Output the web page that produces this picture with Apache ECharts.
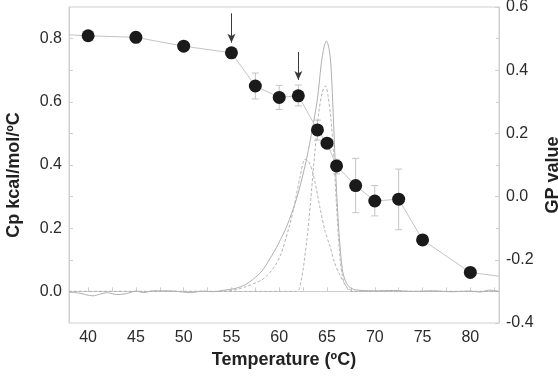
<!DOCTYPE html>
<html>
<head>
<meta charset="utf-8">
<script src="https://cdn.jsdelivr.net/npm/echarts@6/dist/echarts.min.js"></script>
<style>
  html, body { margin: 0; padding: 0; background: #fff; }
  #chart { width: 558px; height: 379px; }
</style>
</head>
<body>
<div id="chart"></div>
<script>
// GP values (right axis)
var gpTemp = [40, 45, 50, 55, 57.5, 60, 62, 64, 65, 66, 68, 70, 72.5, 75, 80];
var gpValue = [0.509, 0.504, 0.476, 0.455, 0.350, 0.314, 0.319, 0.211, 0.169, 0.097, 0.035, -0.014, -0.008, -0.137, -0.240];
// the connecting line runs on to both frame edges
var gpLineStart = [38, 0.512];
var gpLineEnd = [83, -0.252];

// error bars on GP
var errTemp = [57.5, 60, 62, 64, 66, 68, 70, 72.5];
var errLow = [0.309, 0.276, 0.287, 0.179, 0.072, -0.051, -0.061, -0.105];
var errHigh = [0.391, 0.352, 0.353, 0.242, 0.118, 0.121, 0.035, 0.087];

// arrows (temperature, from GP, to GP)
var arrowTemp = [55, 62];
var arrowFrom = [0.580, 0.458];
var arrowTo = [0.487, 0.369];

// DSC trace, Cp (left axis)
var cpTemp = [38, 39, 40.5, 41.3, 42, 43, 44, 45.1, 45.8, 46.8, 48, 49, 50.7, 52, 53, 54.5, 55.5, 56.5, 57.3, 58.2, 59, 59.9, 60.8, 61.8, 62.7, 63.4, 64.0, 64.4, 64.7, 64.95, 65.2, 65.4, 65.6, 65.8, 66.0, 66.2, 66.4, 66.6, 66.9, 67.3, 68, 70, 72, 74, 76, 78, 80, 81, 82, 83];
var cpValue = [-0.003, -0.005, -0.014, -0.008, -0.004, -0.010, -0.007, 0.001, -0.004, 0.002, 0.002, 0.001, -0.004, 0.001, -0.001, 0.005, 0.010, 0.022, 0.039, 0.065, 0.102, 0.150, 0.207, 0.292, 0.397, 0.502, 0.610, 0.720, 0.775, 0.792, 0.770, 0.720, 0.600, 0.450, 0.320, 0.210, 0.130, 0.070, 0.035, 0.015, 0.005, 0.002, 0.003, 0.000, 0.002, -0.001, 0.001, -0.002, 0.004, 0.000];

// narrow deconvolved peak
var peakATemp = [38, 61.8, 62.3, 62.9, 63.3, 63.6, 64.1, 64.5, 64.85, 65.1, 65.4, 65.7, 66.0, 66.3, 66.6, 67.0, 67.5, 83];
var peakAValue = [0, 0, 0.035, 0.165, 0.290, 0.397, 0.555, 0.630, 0.650, 0.620, 0.550, 0.430, 0.270, 0.130, 0.050, 0.015, 0, 0];

// broad deconvolved peak
var peakBTemp = [38, 53, 55, 56.5, 58.3, 59.3, 60.1, 61, 61.5, 62.2, 62.7, 63.1, 63.6, 64.3, 64.8, 65.3, 65.8, 66.3, 67.1, 68, 83];
var peakBValue = [0, 0, 0.003, 0.015, 0.039, 0.070, 0.112, 0.200, 0.260, 0.365, 0.418, 0.410, 0.365, 0.260, 0.190, 0.144, 0.090, 0.055, 0.013, 0, 0];

// tick labels
var xLabels = [40, 45, 50, 55, 60, 65, 70, 75, 80];
var xTicks = [40, 42.5, 45, 47.5, 50, 52.5, 55, 57.5, 60, 62.5, 65, 67.5, 70, 72.5, 75, 77.5, 80, 82.5];
var cpLabels = [0, 0.2, 0.4, 0.6, 0.8];
var cpTicks = [0, 0.1, 0.2, 0.3, 0.4, 0.5, 0.6, 0.7, 0.8];

function zip(a, b) {
  return a.map(function (v, i) { return [v, b[i]]; });
}

var axisGrey = '#cfcfcf';
var textCol = '#2b2b2b';
var font = 'Liberation Sans, Arial, sans-serif';

var chart = echarts.init(document.getElementById('chart'));

var option = {
  animation: false,
  backgroundColor: '#fff',
  textStyle: { fontFamily: font },
  grid: {
    left: 69, right: 59, top: 7, bottom: 56,
    outerBoundsMode: 'none', containLabel: false,
    show: true, borderColor: axisGrey, borderWidth: 1
  },
  xAxis: {
    type: 'value', min: 38, max: 83,
    name: 'Temperature (ºC)', nameLocation: 'middle', nameGap: 23,
    nameTextStyle: { fontSize: 18, fontWeight: 'bold', color: '#222', fontFamily: font },
    axisLine: { lineStyle: { color: axisGrey } },
    axisTick: { inside: true, length: 4, lineStyle: { color: axisGrey }, customValues: xTicks },
    axisLabel: { fontSize: 16, color: textCol, margin: 7, customValues: xLabels },
    splitLine: { show: false }
  },
  yAxis: [
    {
      type: 'value', min: -0.1, max: 0.9, position: 'left',
      name: 'Cp kcal/mol/ºC', nameLocation: 'middle', nameGap: 46,
      nameTextStyle: { fontSize: 18, fontWeight: 'bold', color: '#222', fontFamily: font, padding: [0, 20, 0, 0] },
      axisLine: { show: true, lineStyle: { color: axisGrey } },
      axisTick: { show: true, inside: true, length: 4, lineStyle: { color: axisGrey }, customValues: cpTicks },
      axisLabel: { fontSize: 16, color: textCol, margin: 7, customValues: cpLabels,
        formatter: function (v) { return v.toFixed(1); } },
      splitLine: { show: false }
    },
    {
      type: 'value', min: -0.4, max: 0.6, interval: 0.2, position: 'right',
      name: 'GP value', nameLocation: 'middle', nameGap: 41, nameRotate: 90,
      nameTextStyle: { fontSize: 18, fontWeight: 'bold', color: '#222', fontFamily: font, padding: [0, 20, 0, 0] },
      axisLine: { show: true, lineStyle: { color: axisGrey } },
      axisTick: { show: true, inside: true, length: 4, lineStyle: { color: axisGrey } },
      minorTick: { show: true, splitNumber: 2, length: 3, lineStyle: { color: axisGrey } },
      axisLabel: { fontSize: 16, color: textCol, margin: 7,
        formatter: function (v) { return v.toFixed(1); } },
      splitLine: { show: false }
    }
  ],
  series: [
    {
      name: 'broad', type: 'line', yAxisIndex: 0, symbol: 'none', smooth: 0.3,
      data: zip(peakBTemp, peakBValue),
      lineStyle: { color: '#b5b5b5', width: 1, type: [3, 2] }
    },
    {
      name: 'narrow', type: 'line', yAxisIndex: 0, symbol: 'none', smooth: 0.3,
      data: zip(peakATemp, peakAValue),
      lineStyle: { color: '#b5b5b5', width: 1, type: [3, 2] }
    },
    {
      name: 'Cp', type: 'line', yAxisIndex: 0, symbol: 'none', smooth: 0.3,
      data: zip(cpTemp, cpValue),
      lineStyle: { color: '#b0b0b0', width: 1 }
    },
    {
      name: 'err', type: 'custom', yAxisIndex: 1,
      data: errTemp.map(function (t, i) { return [t, errLow[i], errHigh[i]]; }),
      encode: { x: 0, y: [1, 2] },
      renderItem: function (params, api) {
        var top = api.coord([api.value(0), api.value(2)]);
        var bot = api.coord([api.value(0), api.value(1)]);
        var w = 3.5;
        var st = { stroke: '#c4c4c4', lineWidth: 1 };
        return {
          type: 'group',
          children: [
            { type: 'line', shape: { x1: top[0], y1: top[1], x2: bot[0], y2: bot[1] }, style: st },
            { type: 'line', shape: { x1: top[0] - w, y1: top[1], x2: top[0] + w, y2: top[1] }, style: st },
            { type: 'line', shape: { x1: bot[0] - w, y1: bot[1], x2: bot[0] + w, y2: bot[1] }, style: st }
          ]
        };
      }
    },
    {
      name: 'GP line', type: 'line', yAxisIndex: 1, symbol: 'none',
      data: [gpLineStart].concat(zip(gpTemp, gpValue)).concat([gpLineEnd]),
      lineStyle: { color: '#c4c4c4', width: 1 },
      markLine: {
        silent: true,
        symbol: ['none', 'arrow'],
        symbolSize: [6, 9],
        label: { show: false },
        lineStyle: { color: '#3a3a3a', width: 1, type: 'solid' },
        data: arrowTemp.map(function (t, i) {
          return [{ coord: [t, arrowFrom[i]] }, { coord: [t, arrowTo[i]] }];
        })
      }
    },
    {
      name: 'GP', type: 'scatter', yAxisIndex: 1, symbol: 'circle', symbolSize: 13,
      data: zip(gpTemp, gpValue),
      itemStyle: { color: '#1a1a1a', opacity: 1 },
      z: 5
    }
  ]
};

chart.setOption(option);
</script>
</body>
</html>
